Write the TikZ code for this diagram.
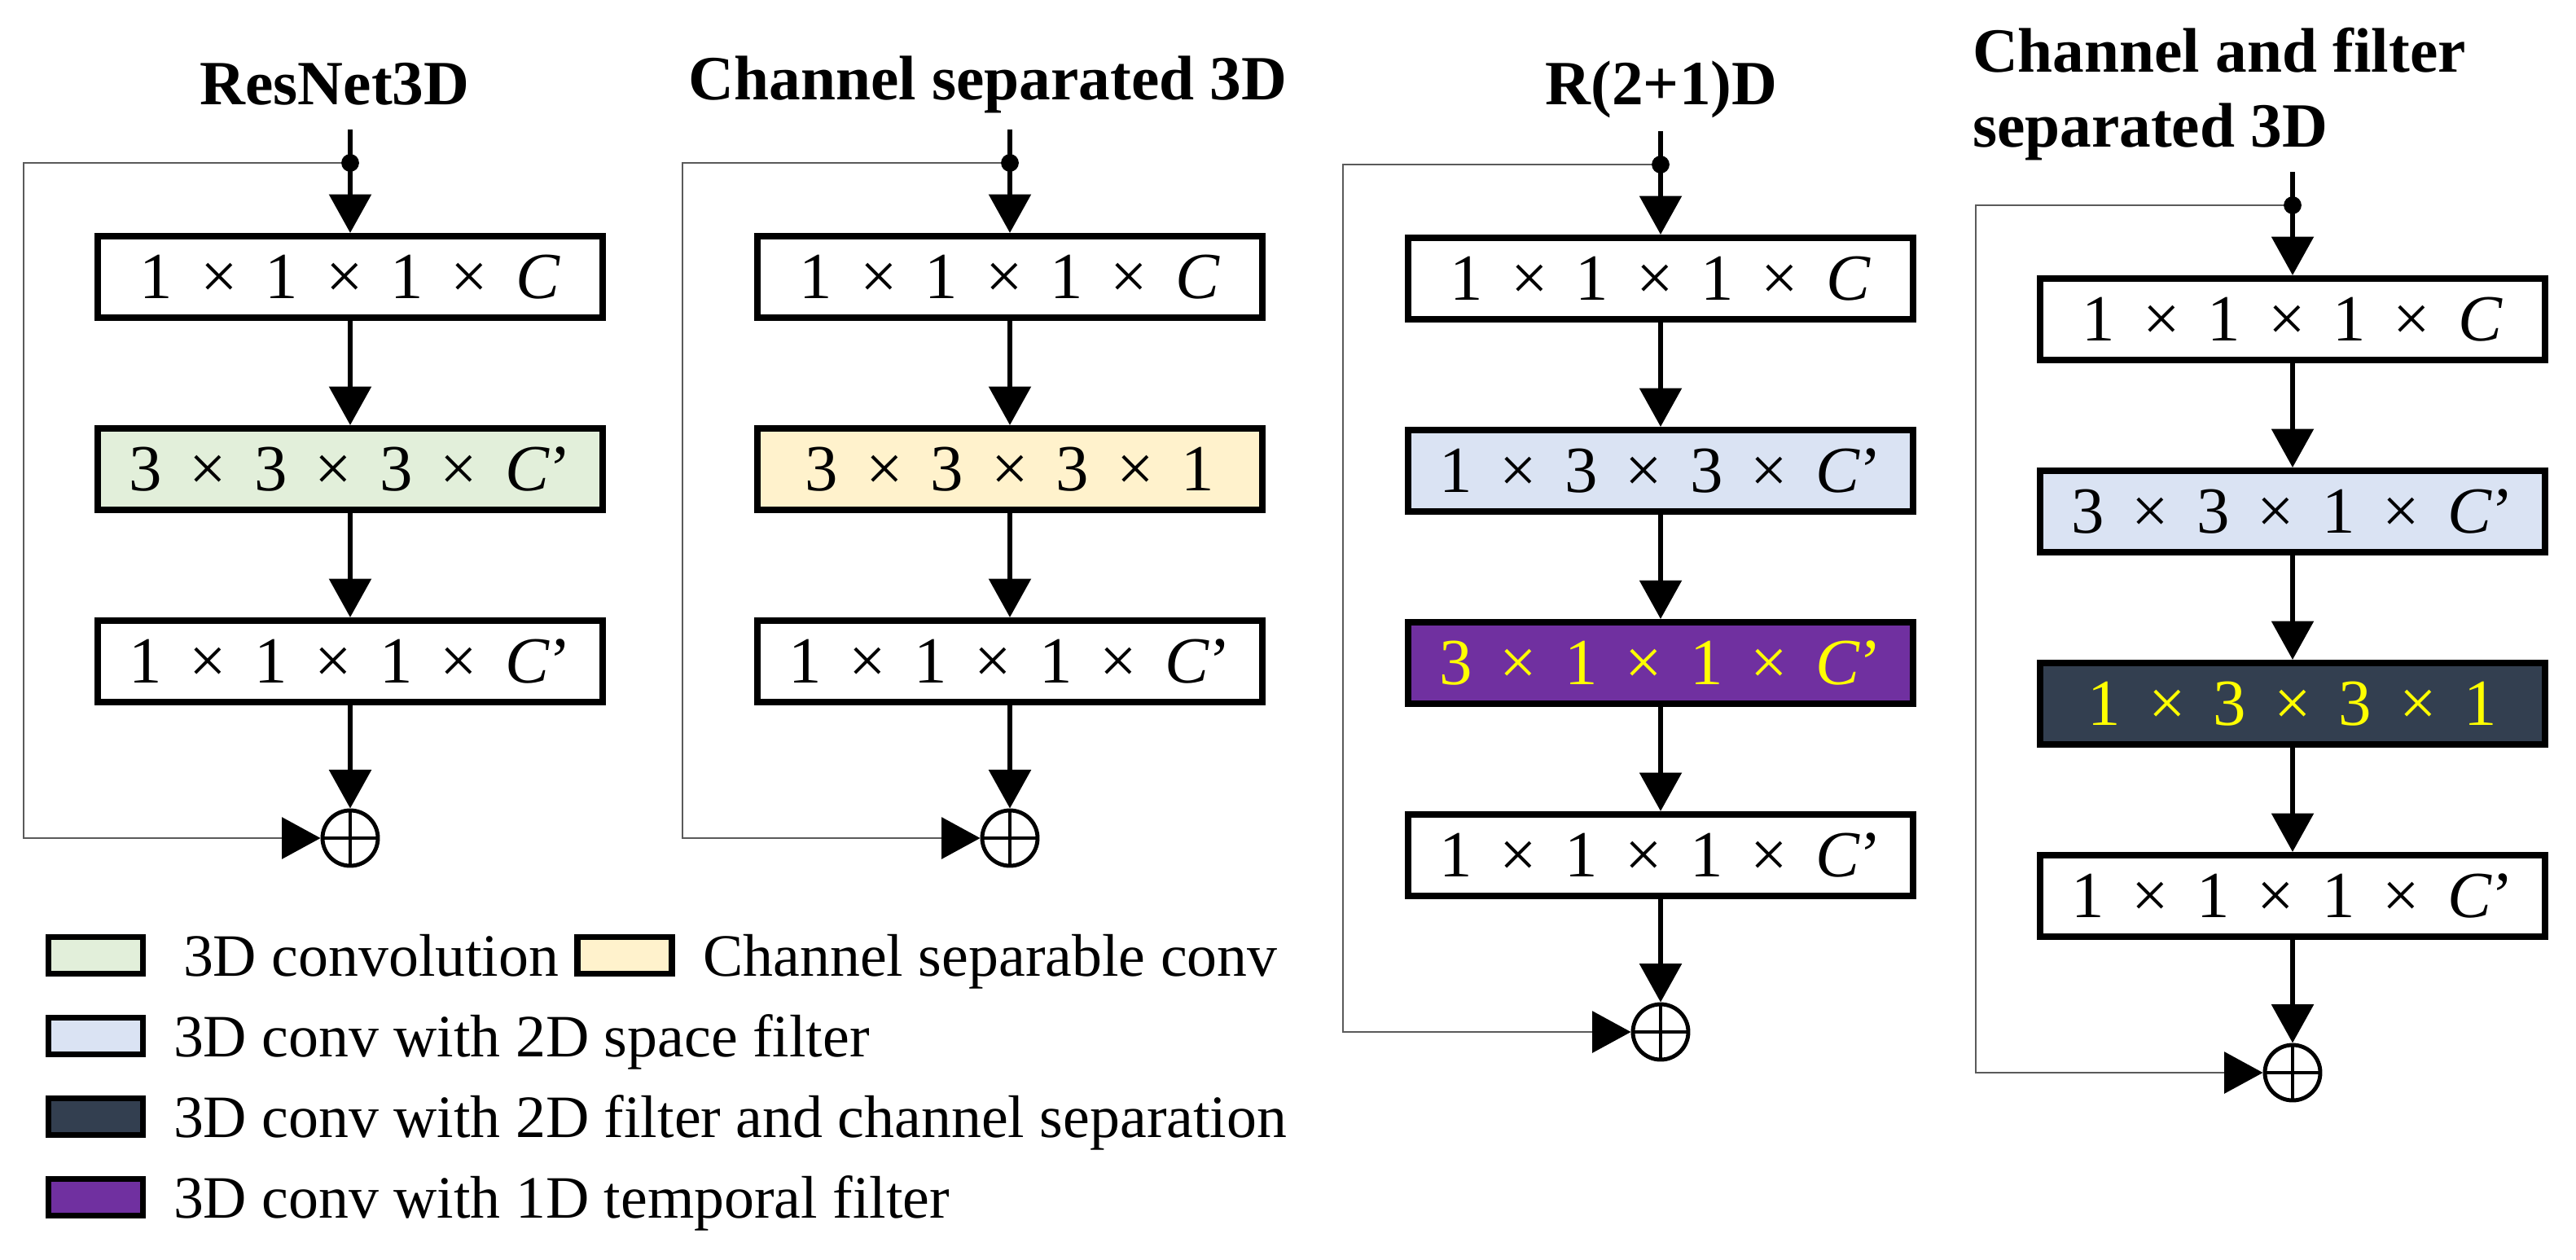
\documentclass[tikz,border=0pt]{standalone}
\usepackage{fontspec}
\setmainfont{Liberation Serif}
\usepackage{tikz}
\usetikzlibrary{arrows.meta,positioning}

\definecolor{convgreen}{HTML}{E2EFDA}
\definecolor{chanyellow}{HTML}{FFF2CC}
\definecolor{spaceblue}{HTML}{DAE3F3}
\definecolor{tempviolet}{HTML}{7030A0}
\definecolor{sepslate}{HTML}{333F50}
\definecolor{skipgray}{HTML}{5A5A5A}
\definecolor{kernyellow}{HTML}{FFFF00}

\newcommand{\tms}{\hspace{0.42em}×\hspace{0.42em}}
\newcommand{\Cp}{\textit{C}’}

\begin{document}
\begin{tikzpicture}[->,>={Triangle[width=14.5pt,length=13.5pt]},line width=1.7pt,node distance=2.36cm]
        \tikzstyle{box}=[draw=black,line width=2.3pt,minimum width=6.2cm,minimum height=1cm,inner sep=0pt,font=\fontsize{23}{27}\selectfont]
        \tikzstyle{hot}=[text=kernyellow]
        \tikzstyle{sum}=[draw=black,circle,line width=1.4pt,minimum size=0.68cm,inner sep=0pt]
        \tikzstyle{skip}=[draw=skipgray,line width=0.8pt,>={Triangle[width=14.5pt,length=13.5pt,color=black]}]
        \tikzstyle{title}=[inner sep=0pt,font=\fontsize{22}{26}\selectfont\bfseries]
        \tikzstyle{key}=[draw=black,line width=2pt,minimum width=1.16cm,minimum height=0.45cm,inner sep=0pt]
        \tikzstyle{keytext}=[inner sep=0pt,text height=14.5pt,text depth=0pt,font=\fontsize{21}{25}\selectfont]
        \useasboundingbox (0,0) rectangle (31.63,-15.46);

        % ResNet3D
        \node[title] (h1) [anchor=base] at (4.11,-1.28) {ResNet3D};
        \node[box] (b11) at (4.30,-3.40) {1\tms 1\tms 1\tms\textit{C}};
        \node[box,fill=convgreen] (b12) [below of=b11] {3\tms 3\tms 3\tms\Cp};
        \node[box] (b13) [below of=b12] {1\tms 1\tms 1\tms\Cp};
        \node[sum] (s1) [below of=b13,node distance=2.17cm] {};
        \path (b11) ++(0,1.40) coordinate (d1) ++(0,0.41) coordinate (t1);

        % Channel separated 3D
        \node[title] (h2) [anchor=base] at (12.13,-1.22) {Channel separated 3D};
        \node[box] (b21) at (12.40,-3.40) {1\tms 1\tms 1\tms\textit{C}};
        \node[box,fill=chanyellow] (b22) [below of=b21] {3\tms 3\tms 3\tms 1};
        \node[box] (b23) [below of=b22] {1\tms 1\tms 1\tms\Cp};
        \node[sum] (s2) [below of=b23,node distance=2.17cm] {};
        \path (b21) ++(0,1.40) coordinate (d2) ++(0,0.41) coordinate (t2);

        % R(2+1)D
        \node[title] (h3) [anchor=base] at (20.40,-1.28) {R(2+1)D};
        \node[box] (b31) at (20.39,-3.42) {1\tms 1\tms 1\tms\textit{C}};
        \node[box,fill=spaceblue] (b32) [below of=b31] {1\tms 3\tms 3\tms\Cp};
        \node[box,hot,fill=tempviolet] (b33) [below of=b32] {3\tms 1\tms 1\tms\Cp};
        \node[box] (b34) [below of=b33] {1\tms 1\tms 1\tms\Cp};
        \node[sum] (s3) [below of=b34,node distance=2.17cm] {};
        \path (b31) ++(0,1.40) coordinate (d3) ++(0,0.41) coordinate (t3);

        % Channel and filter separated 3D
        \node[title,align=left] (h4) [anchor=base west] at (24.19,-1.80) {Channel and filter\\separated 3D};
        \node[box] (b41) at (28.15,-3.92) {1\tms 1\tms 1\tms\textit{C}};
        \node[box,fill=spaceblue] (b42) [below of=b41] {3\tms 3\tms 1\tms\Cp};
        \node[box,hot,fill=sepslate] (b43) [below of=b42] {1\tms 3\tms 3\tms 1};
        \node[box] (b44) [below of=b43] {1\tms 1\tms 1\tms\Cp};
        \node[sum] (s4) [below of=b44,node distance=2.17cm] {};
        \path (b41) ++(0,1.40) coordinate (d4) ++(0,0.41) coordinate (t4);

        \draw (t1) -- (b11);
        \draw (b11) -- (b12);
        \draw (b12) -- (b13);
        \draw (b13) -- (s1);
        \draw[skip] (d1) -- ++(-4.01,0) |- (s1);

        \draw (t2) -- (b21);
        \draw (b21) -- (b22);
        \draw (b22) -- (b23);
        \draw (b23) -- (s2);
        \draw[skip] (d2) -- ++(-4.02,0) |- (s2);

        \draw (t3) -- (b31);
        \draw (b31) -- (b32);
        \draw (b32) -- (b33);
        \draw (b33) -- (b34);
        \draw (b34) -- (s3);
        \draw[skip] (d3) -- ++(-3.90,0) |- (s3);

        \draw (t4) -- (b41);
        \draw (b41) -- (b42);
        \draw (b42) -- (b43);
        \draw (b43) -- (b44);
        \draw (b44) -- (s4);
        \draw[skip] (d4) -- ++(-3.89,0) |- (s4);

        % junction dots and plus signs
        \foreach \c in {1,2,3,4} {
            \fill[-] (d\c) circle (3.1pt);
            \draw[-,line width=1pt] (s\c.north) -- (s\c.south) (s\c.west) -- (s\c.east);
        }

        % legend
        \node[key,fill=convgreen] (k1) at (1.175,-11.73) {};
        \node[keytext] (k1t) [right=0.43cm of k1] {3D convolution};
        \node[key,fill=chanyellow] (k2) at (7.67,-11.73) {};
        \node[keytext] (k2t) [right=0.32cm of k2] {Channel separable conv};
        \node[key,fill=spaceblue] (k3) at (1.175,-12.72) {};
        \node[keytext] (k3t) [right=0.31cm of k3] {3D conv with 2D space filter};
        \node[key,fill=sepslate] (k4) at (1.175,-13.71) {};
        \node[keytext] (k4t) [right=0.31cm of k4] {3D conv with 2D filter and channel separation};
        \node[key,fill=tempviolet] (k5) at (1.175,-14.70) {};
        \node[keytext] (k5t) [right=0.31cm of k5] {3D conv with 1D temporal filter};
\end{tikzpicture}
\end{document}
